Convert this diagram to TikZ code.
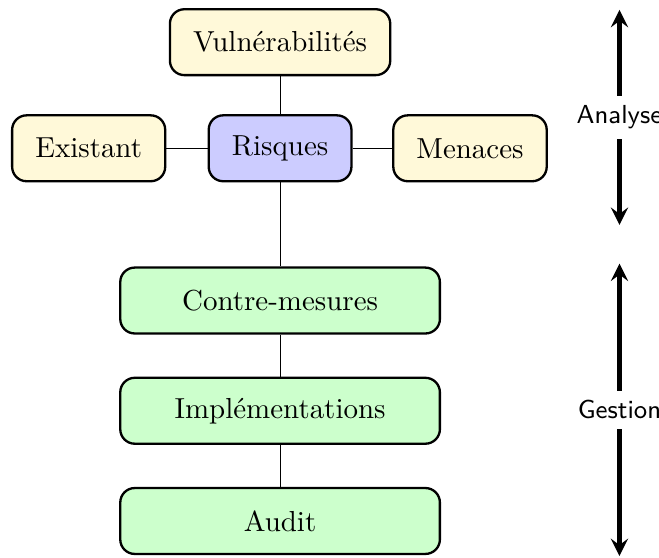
\documentclass[tikz,border=0pt]{standalone}
\usetikzlibrary{positioning}
\definecolor{jaune}{HTML}{FFF9D9}

\begin{document}
\begin{tikzpicture}[
		box/.style={draw, thick, rounded corners=5pt, minimum height=0.8cm, inner xsep=8pt},
		source/.style={box, fill=jaune},
		centre/.style={box, fill=blue!20},
		gestion/.style={box, fill=green!20, minimum width=3.88cm},
		phase/.style={<->, >=stealth, ultra thick}
	]
			\useasboundingbox (0,0) rectangle (8.0,-6.77);
			\node (risques) [centre] at (3.40,-1.80) {Risques};
			\node (vuln) [source, above=0.46cm of risques] {Vulnérabilités};
			\node (existant) [source, left=0.5cm of risques] {Existant};
			\node (menaces) [source, right=0.48cm of risques] {Menaces};
			\node (contre) [gestion, below=1.02cm of risques] {Contre-mesures};
			\node (impl) [gestion, below=0.51cm of contre] {Implémentations};
			\node (audit) [gestion, below=0.51cm of impl] {Audit};
			\path (vuln) edge (risques)
			(existant) edge (risques)
			(risques) edge (menaces)
			(risques) edge (contre)
			(contre) edge (impl)
			(impl) edge (audit);
			% les deux phases
			\coordinate (ahaut) at (7.52,-0.12);
			\coordinate (abas) at (7.52,-2.73);
			\coordinate (ghaut) at (7.52,-3.20);
			\coordinate (gbas) at (7.52,-6.75);
			\draw[phase] (ahaut) -- node[fill=white, font=\sffamily\small] {Analyse} (abas);
			\draw[phase] (ghaut) -- node[fill=white, font=\sffamily\small] {Gestion} (gbas);
		\end{tikzpicture}
\end{document}
